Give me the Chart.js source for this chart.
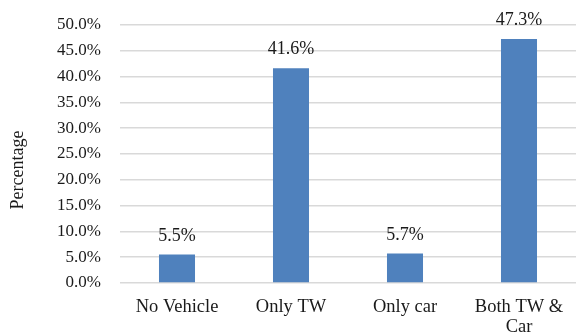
<!DOCTYPE html>
<html>
<head>
<meta charset="utf-8">
<script src="https://cdn.jsdelivr.net/npm/chart.js@4/dist/chart.umd.min.js"></script>
<style>
  html, body { margin: 0; padding: 0; background: #fff; }
  #wrap { width: 576px; height: 335px; }
</style>
</head>
<body>
<div id="wrap"><canvas id="grafico"></canvas></div>
<script>
// tenencia de vehiculos por hogar
const categorias = [['No Vehicle'], ['Only TW'], ['Only car'], ['Both TW &', 'Car']];
const porcentajes = [5.5, 41.6, 5.7, 47.3];
const ticksY = [0, 5, 10, 15, 20, 25, 30, 35, 40, 45, 50];

const fuente = "'Liberation Serif', 'Times New Roman', serif";

// etiquetas de valor encima de cada barra
const etiquetasValor = {
    id: 'etiquetasValor',
    afterDatasetsDraw(chart) {
        const ctx = chart.ctx;
        const meta = chart.getDatasetMeta(0);
        ctx.save();
        ctx.font = '18px ' + fuente;
        ctx.fillStyle = '#1a1a1a';
        ctx.textAlign = 'center';
        ctx.textBaseline = 'alphabetic';
        meta.data.forEach((barra, i) => {
            ctx.fillText(porcentajes[i].toFixed(1) + '%', barra.x, barra.y - 14);
        });
        ctx.restore();
    }
};

// titulo del eje Y
const tituloEje = {
    id: 'tituloEje',
    afterDraw(chart) {
        const ctx = chart.ctx;
        ctx.save();
        ctx.translate(18, 170);
        ctx.rotate(-Math.PI / 2);
        ctx.font = '18px ' + fuente;
        ctx.fillStyle = '#1a1a1a';
        ctx.textAlign = 'center';
        ctx.textBaseline = 'middle';
        ctx.fillText('Percentage', 0, 0);
        ctx.restore();
    }
};

const ctx = document.getElementById('grafico').getContext('2d');
const grafico = new Chart(ctx, {
    type: 'bar',
    data: {
        labels: categorias,
        datasets: [{
            data: porcentajes,
            backgroundColor: '#4F81BD',
            borderWidth: 0,
            barPercentage: 0.316,
            categoryPercentage: 1
        }]
    },
    options: {
        responsive: true,
        maintainAspectRatio: false,
        animation: false,
        layout: { padding: { top: 25, right: 0, left: 0, bottom: 0 } },
        plugins: {
            legend: { display: false },
            tooltip: { enabled: false }
        },
        scales: {
            x: {
                grid: { display: false, drawTicks: false },
                border: { display: false },
                ticks: {
                    font: { family: fuente, size: 18.5, lineHeight: 1.1 },
                    color: '#1a1a1a',
                    padding: 14,
                    maxRotation: 0
                },
                afterFit(escala) {
                    escala.height = 52;
                    escala.paddingLeft = 0;
                    escala.paddingRight = 0;
                }
            },
            y: {
                min: 0,
                max: 50,
                afterBuildTicks(escala) {
                    escala.ticks = ticksY.map(v => ({ value: v }));
                },
                grid: { color: '#d9d9d9', lineWidth: 1.5, drawTicks: false },
                border: { display: false },
                ticks: {
                    font: { family: fuente, size: 17 },
                    color: '#1a1a1a',
                    padding: 19,
                    callback: v => v.toFixed(1) + '%'
                },
                afterFit(escala) {
                    escala.width = 120;
                    escala.paddingTop = 0;
                    escala.paddingBottom = 0;
                }
            }
        }
    },
    plugins: [etiquetasValor, tituloEje]
});
</script>
</body>
</html>
